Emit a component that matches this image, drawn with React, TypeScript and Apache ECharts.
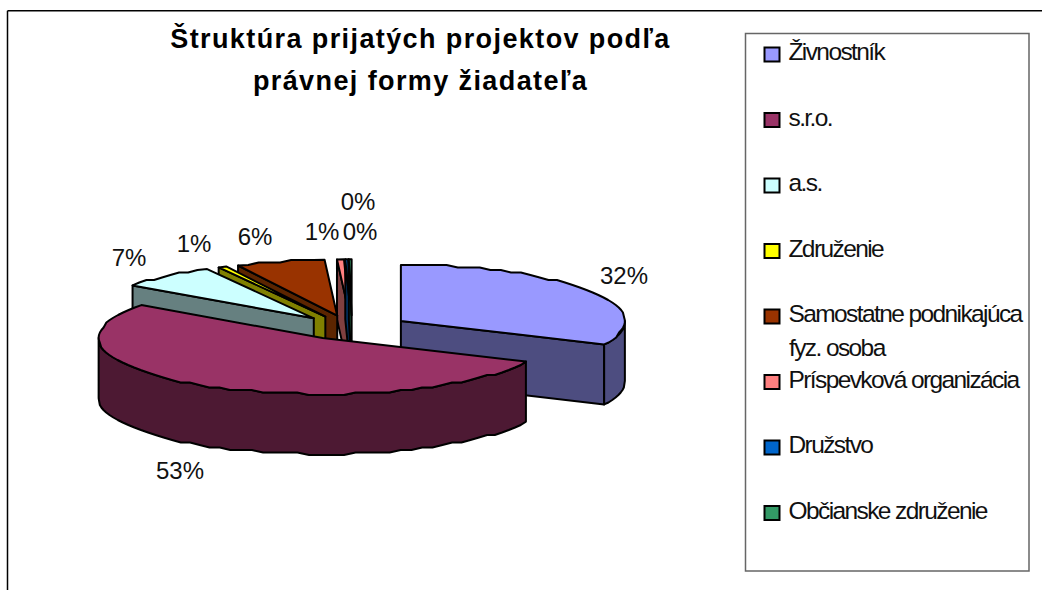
import React, { useEffect, useRef } from "react";
import * as echarts from "echarts";

const titleLines = ["Štruktúra prijatých projektov podľa", "právnej formy žiadateľa"];
const categories = ["Živnostník", "s.r.o.", "a.s.", "Združenie", "Samostatne podnikajúca fyz. osoba", "Príspevková organizácia", "Družstvo", "Občianske združenie"];
const shares = [31.9, 53.1, 7.1, 0.6, 6.4, 0.5, 0.2, 0.2];
const percentLabels = ["32%", "53%", "7%", "1%", "6%", "1%", "0%", "0%"];
const topColors = ["#9999ff", "#993366", "#ccffff", "#ffff00", "#993300", "#ff8080", "#0066cc", "#339966"];
const wallColors = ["#4d4d80", "#4d1933", "#668080", "#808000", "#5c2500", "#804040", "#003366", "#1a4d33"];
const labelCentres = [[624, 275], [180, 470], [129, 257], [194, 243], [255, 236], [322, 231], [358, 201], [360, 231]];

const CX = 352, CY = 327.5, RX = 224, RY = 56, DEPTH = 60, EXPLODE_X = 58, EXPLODE_Y = 12.2, STEP = 3;
const total = shares.reduce((a, b) => a + b, 0);
const toRad = (p: number) => (p / total) * Math.PI * 2;
const slices = shares.map((v, i) => {
  const start = toRad(shares.slice(0, i).reduce((a, b) => a + b, 0));
  const end = start + toRad(v);
  const mid = (start + end) / 2;
  return { start, end, ax: CX + EXPLODE_X * Math.sin(mid), ay: CY - EXPLODE_Y * Math.cos(mid) };
});
const rim = (s: any, a: number, dy = 0, snap = false) => {
  const x = s.ax + RX * Math.sin(a), y = s.ay - RY * Math.cos(a) + dy;
  return snap ? [x, Math.round(y / 2.5) * 2.5] : [x, y];
};
const arc = (s: any, from: number, to: number, dy = 0) => {
  const pts: number[][] = [];
  const n = Math.max(1, Math.ceil(Math.abs(to - from) / ((STEP * Math.PI) / 180)));
  for (let k = 0; k <= n; k++) {
    const edge = k === 0 || k === n;
    pts.push(rim(s, from + ((to - from) * k) / n, dy, !edge));
  }
  return pts;
};
const stroke = { stroke: "#000", lineWidth: 2, lineJoin: "round" };
const poly = (points: number[][], fill: string) => ({ type: "polygon", shape: { points }, style: { fill, ...stroke } });

const sliceItem = (i: number) => () => {
  const s = slices[i];
  const children: any[] = [];
  const wall = wallColors[i];
  const apex = [s.ax, s.ay];
  const apexB = [s.ax, s.ay + DEPTH];
  // cut faces turned towards the viewer
  if (Math.sin(s.start) < -1e-6) {
    children.push(poly([apex, rim(s, s.start), rim(s, s.start, DEPTH), apexB], wall));
  }
  if (Math.sin(s.end) > 1e-6) {
    children.push(poly([apex, rim(s, s.end), rim(s, s.end, DEPTH), apexB], wall));
  }
  // outer wall for the arc part facing the viewer
  const lo = Math.max(s.start, Math.PI / 2), hi = Math.min(s.end, (3 * Math.PI) / 2);
  if (hi > lo) {
    children.push(poly([...arc(s, lo, hi), ...arc(s, hi, lo, DEPTH)], wall));
  }
  children.push(poly([apex, ...arc(s, s.start, s.end)], topColors[i]));
  return { type: "group", children };
};

const labelItem = () => ({
  type: "group",
  children: percentLabels.map((t, i) => ({
    type: "text",
    x: labelCentres[i][0],
    y: labelCentres[i][1],
    style: { text: t, fill: "#111", font: "24px 'Liberation Sans'", textAlign: "center", textVerticalAlign: "middle" },
  })),
});

const drawOrder = [5, 6, 7, 4, 3, 2, 0, 1];

export default function App() {
  const ref = useRef<HTMLDivElement>(null);
  useEffect(() => {
    document.body.style.margin = "0";
    const chart = echarts.init(ref.current!, undefined, { renderer: "svg" });
    const series: any[] = drawOrder.map((i, z) => ({
      type: "custom",
      name: categories[i],
      coordinateSystem: "none",
      z: 2 + z,
      silent: true,
      itemStyle: { color: topColors[i], borderColor: "#000", borderWidth: 2 },
      data: [shares[i]],
      renderItem: sliceItem(i),
    }));
    series.push({ type: "custom", coordinateSystem: "none", z: 20, silent: true, data: [0], renderItem: labelItem });
    const legendFont = { fontFamily: "Liberation Sans", fontSize: 24.5, color: "#111" };
    chart.setOption({
      animation: false,
      backgroundColor: "#fff",
      title: {
        text: titleLines.join("\n"),
        left: 415.5,
        top: 13,
        textAlign: "center",
        textStyle: { fontFamily: "Liberation Sans", fontWeight: "bold", fontSize: 27, lineHeight: 42, color: "#000" },
      },
      legend: {
        orient: "vertical",
        left: 763.5,
        top: 37.5,
        padding: 0,
        itemWidth: 15,
        itemHeight: 14,
        itemGap: 31.5,
        icon: "rect",
        selectedMode: false,
        data: categories,
        formatter: (n: string) => `{t|${n.replace(" fyz. osoba", "")}}\n{s| }`,
        textStyle: {
          ...legendFont,
          padding: [0, 0, 0, 4],
          rich: {
            t: { ...legendFont, lineHeight: 28, height: 28 },
            s: { fontFamily: "Liberation Sans", fontSize: 4, lineHeight: 6, height: 6 },
          },
        },
      },
      graphic: [
        { type: "line", shape: { x1: 7.5, y1: 10.75, x2: 1042, y2: 10.75 }, style: { stroke: "#000", lineWidth: 1.5 } },
        { type: "line", shape: { x1: 7.5, y1: 10.75, x2: 7.5, y2: 590 }, style: { stroke: "#000", lineWidth: 1.5 } },
        { type: "rect", shape: { x: 745.5, y: 33.5, width: 283.5, height: 537.5 }, style: { fill: "none", stroke: "#666", lineWidth: 1.5 } },
        { type: "text", x: 789, y: 347, style: { text: "fyz. osoba", fill: "#111", font: "24.5px 'Liberation Sans'", textVerticalAlign: "middle" } },
      ],
      series,
    });
    return () => chart.dispose();
  }, []);
  return (
    <>
      <style>{`svg text[style*="27px"]{letter-spacing:1.4px} svg text[style*="24.5px"]{letter-spacing:-1.6px}`}</style>
      <div ref={ref} style={{ position: "absolute", left: 0, top: 0, width: 1042, height: 590 }} />
    </>
  );
}
